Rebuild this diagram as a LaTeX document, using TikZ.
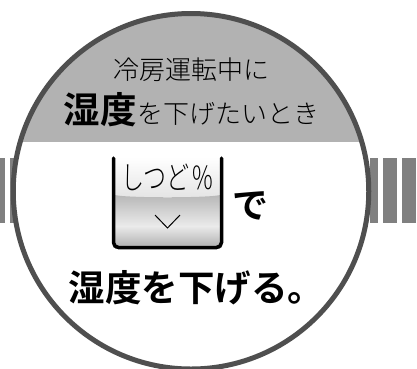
\documentclass[tikz,border=0pt]{standalone}
\usepackage{fontspec}
\newfontfamily\jpl{Noto Sans CJK JP Light}
\newfontfamily\jpb{Noto Sans CJK JP Bold}
\definecolor{ringc}{gray}{0.31}
\definecolor{bandc}{gray}{0.70}
\definecolor{stripec}{gray}{0.5}
\tikzset{x=1pt,y=-1pt,
 thin label/.style={inner sep=0pt,text=black},
 bold label/.style={inner sep=0pt,text=black}}
\begin{document}
\begin{tikzpicture}
\useasboundingbox (0,0) rectangle (417,368);
\fill[white] (0,0) rectangle (417,368);
\foreach \a/\b in {0/5,10/16,370/378,383/397,402/415.5}
  \fill[stripec] (\a,158) rectangle (\b,223);
\fill[white] (191,191.25) circle (177.75);
\begin{scope}
\clip (191,191.25) circle (177.75);
\fill[bandc] (0,0) rectangle (417,141.5);
\end{scope}
\draw[ringc,line width=5pt] (191,191.25) circle (177.75);
\node[thin label,font=\jpl\fontsize{26}{26}\selectfont,anchor=base] (t1) at (191.5,79) {冷房運転中に};
\node[bold label,font=\jpb\fontsize{36.5}{36.5}\selectfont,anchor=base west] (t2) at (63.5,123) {湿度};
\node[thin label,font=\jpl\fontsize{26}{26}\selectfont,anchor=base west] (t3) at (t2.base east) {を下げたいとき};
% button
\shade[top color=white,bottom color=white!90!black] (114,157) rectangle (222,196);
\shade[top color=white!72!black,bottom color=white!92!black] (115,195) .. controls (125,198) and (210,198) .. (220,195) -- (220,226) -- (115,226) -- cycle;
\shade[top color=white!92!black,bottom color=white!68!black] (115,226) rectangle (220,248);
\draw[line width=3.5pt,line cap=round,rounded corners=5pt] (113.5,158) -- (113.5,247.5) -- (221.5,247.5) -- (221.5,158);
\node[thin label,font=\jpl\fontsize{32}{32}\selectfont,transform shape,xscale=.72] (t4) at (167.5,177.5) {しつど\,\%};
\draw[line width=1pt] (155,215) -- (167.5,228) -- (180,215);
\node[bold label,font=\jpb\fontsize{36}{36}\selectfont] (t5) at (250,206) {で};
\node[bold label,font=\jpb\fontsize{36.5}{36.5}\selectfont,anchor=base west] (t6) at (68.5,301) {湿度を下げる。};
\end{tikzpicture}
\end{document}
